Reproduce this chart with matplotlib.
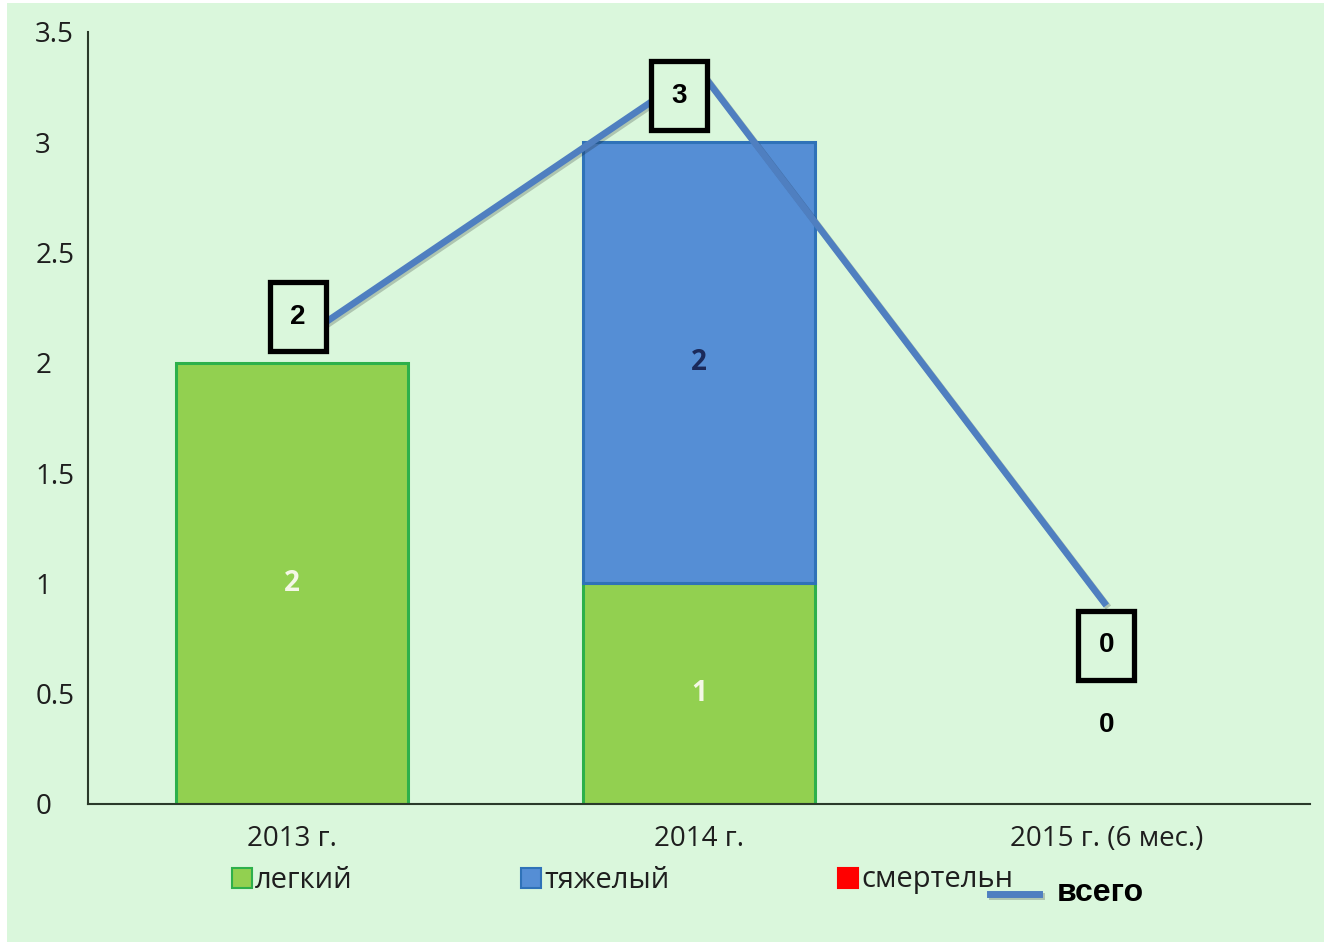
import numpy as np
import matplotlib.pyplot as plt
import matplotlib as mpl
import matplotlib.patheffects as pe
from matplotlib.patches import Rectangle
from matplotlib.lines import Line2D
import matplotlib.transforms as mtransforms

mpl.rcParams['font.family'] = ['Open Sans', 'DejaVu Sans']

# data
years = ['2013 г.', '2014 г.', '2015 г. (6 мес.)']
light = [2, 1, 0]
heavy = [0, 2, 0]
fatal = [0, 0, 0]
total_line = [2.08, 3.33, 0.9]      # line as drawn in the picture
total_labels = ['2', '3', '0']
label_pos = [(0.015, 2.21), (0.951, 3.21), (2.0, 0.72)]  # boxed labels

bg = '#daf7dc'
green = '#92d050'
green_edge = '#2db04b'
blue = '#558ed5'
blue_edge = '#2f72b8'
red = '#ff0000'
line_col = '#4f7fc0'
txt = '#1e1e1e'

fig = plt.figure(figsize=(13.24, 9.42), dpi=100, facecolor='white')
fig.patches.append(Rectangle((7/1324, 0), 1, 1 - 3/942, transform=fig.transFigure,
                             facecolor=bg, edgecolor='none', zorder=-5))
ax = fig.add_axes([88/1324, 1 - 804/942, (1310-88)/1324, (804-32)/942])
ax.set_facecolor('none')

x = np.arange(len(years))
w = 0.57
bottoms = np.zeros(len(x))
for vals, fc, ec in [(light, green, green_edge), (heavy, blue, blue_edge), (fatal, red, red)]:
    vals = np.array(vals, dtype=float)
    m = vals > 0
    if m.any():
        ax.bar(x[m], vals[m], w, bottom=bottoms[m], color=fc, edgecolor=ec,
               linewidth=2.2, zorder=2)
    bottoms += vals

ax.plot(x, total_line, color=line_col, lw=4.8, solid_capstyle='butt', zorder=3,
        path_effects=[pe.SimpleLineShadow(offset=(1.5, -1.5), alpha=0.2), pe.Normal()])

# values inside bars
for i in range(len(x)):
    if light[i] > 0:
        ax.text(x[i], light[i]/2, str(light[i]), ha='center', va='center', color='#f4f7e6',
                fontsize=20, fontweight='bold', zorder=4)
    if heavy[i] > 0:
        ax.text(x[i], light[i] + heavy[i]/2, str(heavy[i]), ha='center', va='center',
                color='#1b2a5a', fontsize=20, fontweight='bold', zorder=4)
ax.text(x[2], 0.36, '0', ha='center', va='center', color='black', fontsize=20,
        fontweight='bold', family='Liberation Sans', zorder=4)

# boxed labels of the line
for (bx, by), lab in zip(label_pos, total_labels):
    tr = fig.dpi_scale_trans + mtransforms.ScaledTranslation(bx, by, ax.transData)
    ax.add_patch(Rectangle((-0.28, -0.345), 0.56, 0.69, transform=tr, facecolor=bg,
                           edgecolor='black', linewidth=3.8, zorder=5, clip_on=False))
    ax.text(bx, by, lab, ha='center', va='center', fontsize=20, fontweight='bold',
            family='Liberation Sans', color='black', zorder=6)

ax.set_xlim(-0.5, 2.5)
ax.set_ylim(0, 3.5)
ax.set_xticks(x)
ax.set_xticklabels(years)
ax.set_yticks(np.arange(0, 3.51, 0.5))
ax.set_yticklabels(['0', '0.5', '1', '1.5', '2', '2.5', '3', '3.5'])
ax.tick_params(length=0, labelsize=20, labelcolor=txt)
ax.tick_params(axis='y', pad=38)
ax.tick_params(axis='x', pad=15)
for lbl in ax.get_yticklabels():
    lbl.set_ha('left')
for s in ['top', 'right']:
    ax.spines[s].set_visible(False)
for s in ['left', 'bottom']:
    ax.spines[s].set_color('#2a3a2a')
    ax.spines[s].set_linewidth(1.5)

# legend drawn by hand
leg = [('легкий', green, green_edge, 232), ('тяжелый', blue, blue_edge, 521),
       ('смертельн', red, red, 838)]
for name, fc, ec, px in leg:
    fig.patches.append(Rectangle((px/1324, 1 - 888/942), 20/1324, 20/942,
                                 transform=fig.transFigure, facecolor=fc, edgecolor=ec,
                                 linewidth=1.5))
    fig.text((px + 23)/1324, 1 - 880/942, name, ha='left', va='center', fontsize=21,
             color=txt)
fig.add_artist(Line2D([990/1324, 1039/1324], [1 - 894/942, 1 - 894/942],
                      transform=fig.transFigure, color=line_col, lw=5,
                      path_effects=[pe.SimpleLineShadow(offset=(1.5, -1.5), alpha=0.2),
                                    pe.Normal()]))
fig.text(1057/1324, 1 - 893/942, 'всего', ha='left', va='center', fontsize=23,
         fontweight='bold', family='Liberation Sans', color='black')

fig.savefig('out.png', dpi=100, facecolor=fig.get_facecolor())
